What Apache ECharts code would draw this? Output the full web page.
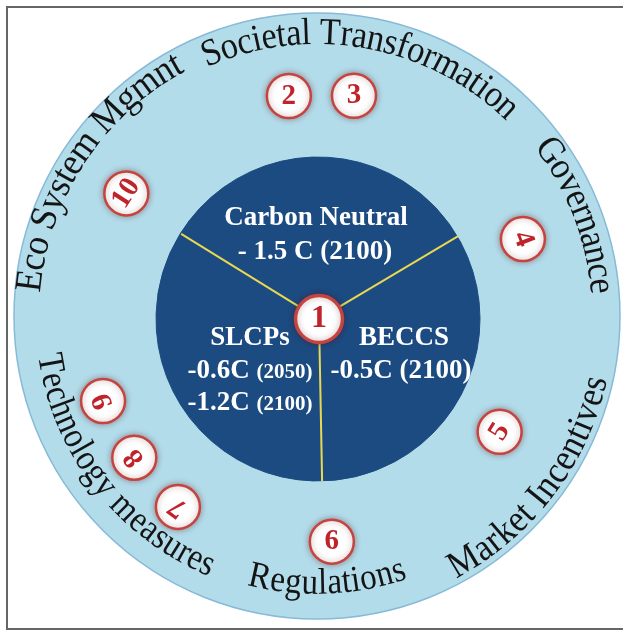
<!DOCTYPE html>
<html><head><meta charset="utf-8">
<script src="https://cdn.jsdelivr.net/npm/echarts@6/dist/echarts.min.js"></script>
<style>html,body{margin:0;padding:0;background:#fff}#c{width:623px;height:630px}</style>
</head><body><div id="c"></div>
<script>
// ---- data ----
const strategies = ['Carbon Neutral', 'BECCS', 'SLCPs'];
const strategyShares = [1, 1, 1];
const spokeAngles = [301.7, 59.2, 178.9];           // compass degrees of the dividing lines
const markerIds = ['1', '2', '3', '4', '5', '6', '7', '8', '9', '10'];
const markerRadius = [0, 225, 226, 219, 213, 223, 235, 231, 231, 230];
const markerAngle = [0, 352.3, 8.9, 68.6, 122, 176.7, 216.9, 233.1, 249.2, 303.1];
const markerRotate = [0, 0, 0, -69, 58, 0, 144, 128, 111, 57];
const arcLabels = ['Societal Transformation', 'Governance', 'Market Incentives', 'Regulations', 'Technology measures', 'Eco System Mgmnt'];
const arcStart = [-23.8, 52.2, 152.2, 194.7, 262, 274.8];
const arcEnd = [44.1, 85.5, 102.3, 160.9, 202.5, 331.7];
const innerTexts = ['Carbon Neutral', '- 1.5 C (2100)', 'SLCPs', '{a|-0.6C} {b|(2050)}', '{a|-1.2C} {b|(2100)}', 'BECCS', '-0.5C (2100)'];

// ---- layout ----
const outerC = [317, 316], outerR = 303;
const innerC = [318, 319], innerR = 162;
const polarC = [319, 319];
const arcRadius = [282, 285, 287, 268, 272, 288];
const arcFont = [38, 38, 38, 37, 37, 38];
const innerPos = [[316, 218], [315, 252], [250, 338], [250, 371], [250, 403], [404, 338], [401, 371]];

const FONT = '"Liberation Serif", "Times New Roman", serif';
const cv = document.createElement('canvas').getContext('2d');

const graphics = [];
arcLabels.forEach((txt, k) => {
  const fs = arcFont[k], r = arcRadius[k];
  cv.font = 'normal ' + fs + 'px ' + FONT;
  const chars = txt.split('');
  const ws = chars.map(ch => cv.measureText(ch).width);
  const W = ws.reduce((a, b) => a + b, 0);
  const span = arcEnd[k] - arcStart[k];
  const L = Math.abs(span) * Math.PI / 180 * r;
  const s = Math.min(1, L / W);
  const outward = span > 0;
  let cum = 0;
  chars.forEach((ch, i) => {
    const t = (cum + ws[i] / 2) / W;
    cum += ws[i];
    if (ch === ' ') return;
    const th = arcStart[k] + span * t;
    const rad = th * Math.PI / 180;
    const x = outerC[0] + r * Math.sin(rad);
    const y = outerC[1] - r * Math.cos(rad);
    const rot = outward ? -rad : -(th - 180) * Math.PI / 180;
    graphics.push({
      type: 'text', x: x, y: y, rotation: rot, scaleX: s, z: 100, silent: true,
      style: { text: ch, x: 0, y: 0, align: 'center', verticalAlign: 'middle',
        fontSize: fs, fontFamily: FONT, fontWeight: 'normal', fill: '#141414' }
    });
  });
});

innerTexts.forEach((t, i) => {
  graphics.push({
    type: 'text', x: innerPos[i][0], y: innerPos[i][1], z: 100, silent: true,
    style: {
      text: t, x: 0, y: 0, align: 'center', verticalAlign: 'middle',
      fontSize: 27, fontFamily: FONT, fontWeight: 'bold', fill: '#ffffff',
      rich: {
        a: { fontSize: 27, fontFamily: FONT, fontWeight: 'bold', fill: '#ffffff', color: '#ffffff' },
        b: { fontSize: 21, fontFamily: FONT, fontWeight: 'bold', fill: '#ffffff', color: '#ffffff', padding: [4, 0, 0, 0] }
      }
    }
  });
});

graphics.push({
  type: 'rect', z: 100, silent: true,
  shape: { x: 7, y: 7, width: 700, height: 622 },
  style: { fill: 'none', stroke: '#666666', lineWidth: 2 }
});

const spokeSeries = spokeAngles.map(a => ({
  type: 'line', coordinateSystem: 'polar', symbol: 'none', silent: true, z: 3,
  lineStyle: { color: '#e8d852', width: 2 },
  data: [[23, a], [innerR, a]]
}));

const markerData = markerIds.map((id, i) => ({
  name: id,
  value: [markerRadius[i], markerAngle[i]],
  symbolSize: i === 0 ? 47 : 44,
  itemStyle: i === 0 ? { borderWidth: 3.5 } : undefined,
  label: { rotate: markerRotate[i], fontSize: i === 0 ? 32 : 29 }
}));

const chart = echarts.init(document.getElementById('c'), null, { renderer: 'canvas' });
chart.setOption({
  backgroundColor: '#ffffff',
  animation: false,
  polar: { center: polarC, radius: outerR },
  angleAxis: { type: 'value', min: 0, max: 360, startAngle: 90, clockwise: true, show: false },
  radiusAxis: { type: 'value', min: 0, max: outerR, show: false },
  graphic: graphics,
  series: [
    {
      type: 'pie', center: outerC, radius: [0, outerR], silent: true, z: 1,
      label: { show: false }, labelLine: { show: false },
      itemStyle: { color: '#b3dcea', borderColor: '#86bad8', borderWidth: 1.5 },
      data: [{ name: 'frame', value: 1 }]
    },
    {
      type: 'pie', center: innerC, radius: [0, innerR], silent: true, z: 2,
      startAngle: 90 - spokeAngles[0], clockwise: true,
      label: { show: false }, labelLine: { show: false },
      itemStyle: { color: '#1c4b82', borderColor: '#1c4b82', borderWidth: 1 },
      data: strategies.map((n, i) => ({ name: n, value: strategyShares[i] }))
    },
    ...spokeSeries,
    {
      type: 'scatter', coordinateSystem: 'polar', z: 5, silent: true,
      symbol: 'circle',
      itemStyle: { color: '#ffffff', opacity: 1, borderColor: '#c4443f', borderWidth: 2.5,
        shadowBlur: 6, shadowColor: 'rgba(90,0,0,0.35)' },
      label: { show: true, position: 'inside', formatter: '{b}', color: '#c0242b',
        fontFamily: FONT, fontWeight: 'bold', fontSize: 29 },
      data: markerData
    }
  ]
});
</script></body></html>
